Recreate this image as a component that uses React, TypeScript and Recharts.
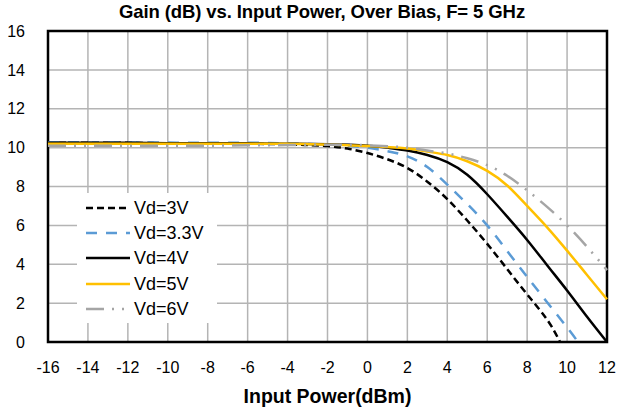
import { LineChart, Line, XAxis, YAxis, CartesianGrid, Legend, ReferenceArea } from 'recharts'

const xTicks = [-16, -14, -12, -10, -8, -6, -4, -2, 0, 2, 4, 6, 8, 10, 12]
const yTicks = [0, 2, 4, 6, 8, 10, 12, 14, 16]

const vd3X = [-16, -14, -12, -10, -8, -6, -4, -3, -2, -1, 0, 1, 2, 3, 4, 5, 6, 7, 8, 9, 9.65]
const vd3Y = [10.25, 10.25, 10.25, 10.22, 10.2, 10.2, 10.17, 10.13, 10.08, 9.95, 9.72, 9.4, 8.95, 8.25, 7.35, 6.25, 5.05, 3.75, 2.45, 1.15, 0]

const vd33X = [-16, -14, -12, -10, -8, -6, -4, -2, -1, 0, 1, 2, 3, 4, 5, 6, 7, 8, 9, 10, 10.55]
const vd33Y = [10.28, 10.27, 10.27, 10.26, 10.25, 10.25, 10.22, 10.16, 10.1, 10.0, 9.82, 9.55, 9.0, 8.1, 7.1, 6.0, 4.68, 3.35, 2.05, 0.75, 0]

const vd4X = [-16, -14, -12, -10, -8, -6, -4, -2, 0, 1, 2, 3, 4, 5, 6, 7, 8, 9, 10, 11, 12]
const vd4Y = [10.25, 10.25, 10.25, 10.23, 10.22, 10.22, 10.2, 10.17, 10.1, 10.0, 9.85, 9.62, 9.25, 8.6, 7.6, 6.45, 5.25, 3.95, 2.65, 1.3, 0]

const vd5X = [-16, -14, -12, -10, -8, -6, -4, -2, 0, 2, 3, 4, 5, 6, 7, 8, 9, 10, 11, 12]
const vd5Y = [10.2, 10.2, 10.2, 10.2, 10.2, 10.2, 10.2, 10.15, 10.08, 9.95, 9.8, 9.62, 9.3, 8.8, 8.05, 7.0, 5.9, 4.7, 3.45, 2.2]

const vd6X = [-16, -14, -12, -10, -8, -6, -4, -2, 0, 2, 3, 4, 5, 6, 7, 8, 9, 10, 11, 12]
const vd6Y = [10.1, 10.1, 10.1, 10.1, 10.1, 10.12, 10.13, 10.15, 10.12, 10.0, 9.85, 9.7, 9.45, 9.1, 8.55, 7.8, 6.95, 6.0, 4.9, 3.7]

const toRows = (xs: number[], ys: number[]) => xs.map((x, i) => ({ x, y: ys[i] }))

const series = [
  { name: 'Vd=3V', data: toRows(vd3X, vd3Y), color: '#000000', dash: '7 4' },
  { name: 'Vd=3.3V', data: toRows(vd33X, vd33Y), color: '#5B9BD5', dash: '11 9' },
  { name: 'Vd=4V', data: toRows(vd4X, vd4Y), color: '#000000', dash: undefined },
  { name: 'Vd=5V', data: toRows(vd5X, vd5Y), color: '#FFC000', dash: undefined },
  { name: 'Vd=6V', data: toRows(vd6X, vd6Y), color: '#A5A5A5', dash: '18 8 2 8 2 8' }
]

const font = 'Arial, "Liberation Sans", sans-serif'

function LegendBox() {
  return (
    <div style={{ background: '#fff', width: 140, paddingTop: 2, paddingBottom: 2, fontFamily: font }}>
      {series.map((s) => (
        <div key={s.name} style={{ display: 'flex', alignItems: 'center', height: 25.3 }}>
          <svg width={53} height={10}>
            <line x1={9} y1={5} x2={53} y2={5} stroke={s.color} strokeWidth={2.5} strokeDasharray={s.dash} />
          </svg>
          <span style={{ fontSize: 18, color: '#000', marginLeft: 4, lineHeight: '20px' }}>{s.name}</span>
        </div>
      ))}
    </div>
  )
}

export default function App() {
  return (
    <div style={{ position: 'absolute', left: 0, top: 0, width: 618, height: 409, background: '#fff', fontFamily: font }}>
      <div
        style={{
          position: 'absolute',
          top: 2,
          left: 0,
          width: 644,
          textAlign: 'center',
          fontSize: 18.5,
          lineHeight: '20px',
          fontWeight: 'bold',
          letterSpacing: -0.1
        }}
      >
        Gain (dB) vs. Input Power, Over Bias, F= 5 GHz
      </div>
      <LineChart width={618} height={409} margin={{ top: 31, right: 11, bottom: 0, left: 0 }}>
        <CartesianGrid stroke='#b4b4b4' strokeWidth={1.5} />
        <XAxis
          type='number'
          dataKey='x'
          domain={[-16, 12]}
          ticks={xTicks}
          interval={0}
          axisLine={false}
          tickLine={false}
          height={67}
          tick={{ fontSize: 16, fill: '#000', fontFamily: font }}
          tickMargin={14}
          label={{ value: 'Input Power(dBm)', position: 'insideBottom', offset: 6, fontSize: 19.5, fontWeight: 'bold', fill: '#000', fontFamily: font }}
          allowDuplicatedCategory={false}
        />
        <YAxis
          type='number'
          domain={[0, 16]}
          ticks={yTicks}
          interval={0}
          axisLine={false}
          tickLine={false}
          width={48}
          tick={{ fontSize: 16, fill: '#000', fontFamily: font }}
          tickMargin={17}
        />
        <ReferenceArea x1={-16} x2={12} y1={0} y2={16} fill='none' stroke='#000' strokeWidth={2.5} ifOverflow='visible' />
        {series.map((s) => (
          <Line
            key={s.name}
            data={s.data}
            dataKey='y'
            name={s.name}
            type='natural'
            stroke={s.color}
            strokeWidth={2.5}
            strokeDasharray={s.dash}
            dot={false}
            isAnimationActive={false}
          />
        ))}
        <Legend
          layout='vertical'
          align='center'
          verticalAlign='middle'
          content={() => <LegendBox />}
          wrapperStyle={{ left: 77, top: 193, width: 140 }}
        />
      </LineChart>
    </div>
  )
}
